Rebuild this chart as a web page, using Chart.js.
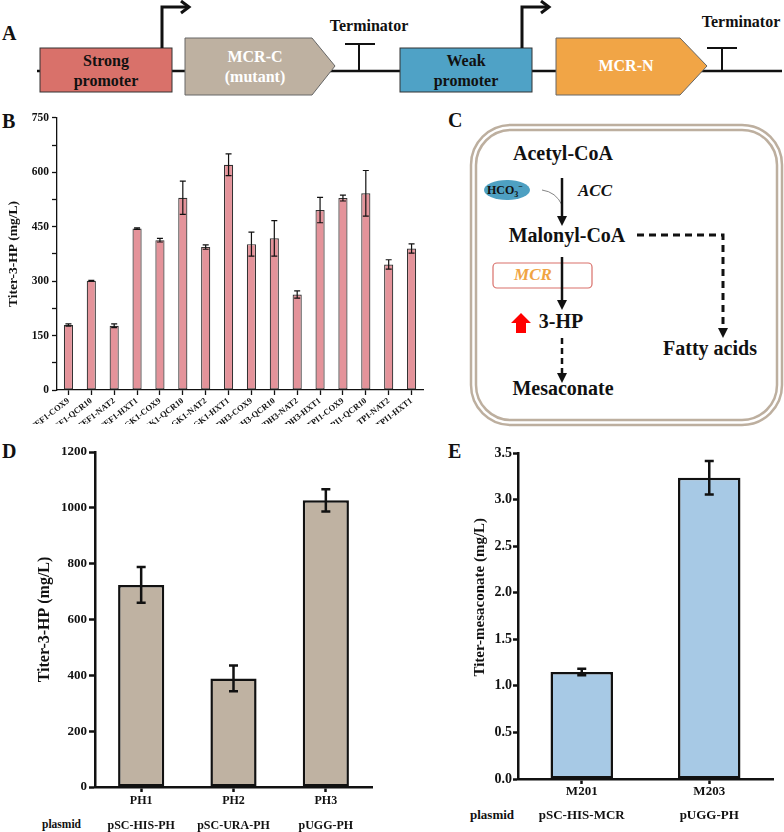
<!DOCTYPE html>
<html lang="en">
<head>
<meta charset="UTF-8">
<title>3-HP and mesaconate titers</title>
<script src="https://cdn.jsdelivr.net/npm/chart.js"></script>
<style>
  body { margin: 0; width: 784px; height: 832px; position: relative; background: #fff; overflow: hidden; }
  canvas, svg { position: absolute; }
  svg text { font-family: "Liberation Serif", "Times New Roman", serif; font-weight: bold; fill: #111; }
</style>
</head>
<body>
<svg width="784" height="832" style="left:0;top:0">
  <!-- panel labels -->
  <text x="2" y="40" font-size="20">A</text>
  <text x="2" y="128" font-size="20">B</text>
  <text x="448" y="127" font-size="20">C</text>
  <text x="2" y="458" font-size="20">D</text>
  <text x="448" y="458" font-size="20">E</text>

  <!-- A: construct -->
  <line x1="37" y1="71" x2="782" y2="71" stroke="#111" stroke-width="2.5"/>
  <rect x="40" y="48" width="132" height="44" fill="#D9716A" stroke="#333" stroke-width="1"/>
  <text x="106" y="62" font-size="16" text-anchor="middle" dominant-baseline="middle">Strong</text>
  <text x="106" y="82" font-size="16" text-anchor="middle" dominant-baseline="middle">promoter</text>
  <path d="M162,48 V7 H188" fill="none" stroke="#111" stroke-width="3"/>
  <polyline points="181,1 189,7 181,13" fill="none" stroke="#111" stroke-width="3"/>
  <polygon points="185,38 312,38 335,66 312,95 185,95" fill="#BEB1A1" stroke="#666" stroke-width="1"/>
  <text x="255" y="58" font-size="16" text-anchor="middle" dominant-baseline="middle" style="fill:#fff">MCR-C</text>
  <text x="255" y="78" font-size="16" text-anchor="middle" dominant-baseline="middle" style="fill:#fff">(mutant)</text>
  <text x="369" y="27" font-size="16" text-anchor="middle" dominant-baseline="middle">Terminator</text>
  <line x1="345" y1="44" x2="375" y2="44" stroke="#111" stroke-width="2"/>
  <line x1="359" y1="44" x2="359" y2="71" stroke="#111" stroke-width="2"/>
  <rect x="400" y="48" width="132" height="44" fill="#4FA2C6" stroke="#333" stroke-width="1"/>
  <text x="466" y="62" font-size="16" text-anchor="middle" dominant-baseline="middle">Weak</text>
  <text x="466" y="82" font-size="16" text-anchor="middle" dominant-baseline="middle">promoter</text>
  <path d="M522,48 V7 H548" fill="none" stroke="#111" stroke-width="3"/>
  <polyline points="541,1 549,7 541,13" fill="none" stroke="#111" stroke-width="3"/>
  <polygon points="556,38 680,38 707,66 680,95 556,95" fill="#F1A546" stroke="#666" stroke-width="1"/>
  <text x="626" y="67" font-size="16" text-anchor="middle" dominant-baseline="middle" style="fill:#fff">MCR-N</text>
  <text x="741" y="23" font-size="16" text-anchor="middle" dominant-baseline="middle">Terminator</text>
  <line x1="707" y1="48" x2="737" y2="48" stroke="#111" stroke-width="2"/>
  <line x1="722" y1="48" x2="722" y2="71" stroke="#111" stroke-width="2"/>

  <!-- C: pathway -->
  <rect x="471" y="125" width="311" height="300" rx="40" fill="none" stroke="#BDAF9F" stroke-width="2.5"/>
  <rect x="476" y="130" width="301" height="290" rx="35" fill="none" stroke="#BDAF9F" stroke-width="2.5"/>
  <text x="563" y="155" font-size="20" text-anchor="middle" dominant-baseline="middle">Acetyl-CoA</text>
  <ellipse cx="507" cy="190" rx="23" ry="10" fill="#4EA0C2"/>
  <text x="487" y="194" font-size="12">HCO<tspan dy="3" font-size="8">3</tspan><tspan dy="-8" font-size="8">−</tspan></text>
  <path d="M542,190 Q556,192 562,205" fill="none" stroke="#666" stroke-width="0.8"/>
  <line x1="562" y1="178" x2="562" y2="218" stroke="#111" stroke-width="2.5"/>
  <polygon points="557,216 567,216 562,226" fill="#111"/>
  <text x="578" y="192" font-size="17" font-style="italic" dominant-baseline="middle">ACC</text>
  <text x="567" y="237" font-size="20" text-anchor="middle" dominant-baseline="middle">Malonyl-CoA</text>
  <path d="M637,235 H723 V330" fill="none" stroke="#111" stroke-width="3" stroke-dasharray="7,5"/>
  <polygon points="718,328 728,328 723,338" fill="#111"/>
  <text x="710" y="350" font-size="20" text-anchor="middle" dominant-baseline="middle">Fatty acids</text>
  <rect x="493" y="263" width="99" height="25" rx="4" fill="none" stroke="#D9706A" stroke-width="1.2"/>
  <text x="533" y="276" font-size="17" font-style="italic" text-anchor="middle" dominant-baseline="middle" style="fill:#F0A444">MCR</text>
  <line x1="562" y1="257" x2="562" y2="302" stroke="#111" stroke-width="2.5"/>
  <polygon points="557,300 567,300 562,310" fill="#111"/>
  <polygon points="521,313 511,323 516,323 516,333 526,333 526,323 531,323" fill="#FF0000"/>
  <text x="561" y="323" font-size="20" text-anchor="middle" dominant-baseline="middle">3-HP</text>
  <line x1="562" y1="338" x2="562" y2="375" stroke="#111" stroke-width="2.5" stroke-dasharray="6,4"/>
  <polygon points="557,373 567,373 562,383" fill="#111"/>
  <text x="563" y="390" font-size="20" text-anchor="middle" dominant-baseline="middle">Mesaconate</text>

  <!-- row captions under D and E -->
  <text x="42" y="825" font-size="11.5" dominant-baseline="middle">plasmid</text>
  <text x="470" y="816" font-size="13" dominant-baseline="middle">plasmid</text>
</svg>

<canvas id="chartB" width="432" height="316" style="left:0;top:108px"></canvas>
<canvas id="chartD" width="392" height="392" style="left:0;top:440px"></canvas>
<canvas id="chartE" width="364" height="392" style="left:420px;top:440px"></canvas>

<script>
    // Panel B: promoter / terminator combinations
    const labelsB = ['TEF1-COX9', 'TEF1-QCR10', 'TEF1-NAT2', 'TEF1-HXT1', 'PGK1-COX9', 'PGK1-QCR10', 'PGK1-NAT2', 'PGK1-HXT1',
        'TDH3-COX9', 'TDH3-QCR10', 'TDH3-NAT2', 'TDH3-HXT1', 'TPI1-COX9', 'TPI1-QCR10', 'TPI-NAT2', 'TPI1-HXT1'];
    const titerB = [179, 301, 177, 445, 413, 530, 394, 621, 402, 418, 263, 496, 529, 542, 346, 390];
    const errB = [3, 1, 5, 2, 5, 46, 6, 30, 33, 49, 10, 35, 8, 63, 13, 13];
    const ticksB = [0, 150, 300, 450, 600, 750];

    // Panel D: 3-HP by plasmid
    const strainsD = ['PH1', 'PH2', 'PH3'];
    const plasmidsD = ['pSC-HIS-PH', 'pSC-URA-PH', 'pUGG-PH'];
    const titerD = [724, 389, 1027];
    const errD = [64, 46, 40];
    const ticksD = [0, 200, 400, 600, 800, 1000, 1200];

    // Panel E: mesaconate by plasmid
    const strainsE = ['M201', 'M203'];
    const plasmidsE = ['pSC-HIS-MCR', 'pUGG-PH'];
    const titerE = [1.15, 3.235];
    const errE = [0.035, 0.18];
    const ticksE = [0, 0.5, 1.0, 1.5, 2.0, 2.5, 3.0, 3.5];

    const SERIF = '"Liberation Serif", "Times New Roman", serif';
    Chart.defaults.font.family = SERIF;
    Chart.defaults.font.weight = 'bold';
    Chart.defaults.color = '#111';

    // error bars drawn from the y scale
    const errorBars = {
        id: 'errorBars',
        afterDatasetsDraw(chart, args, opts) {
            const ctx = chart.ctx;
            const y = chart.scales.y;
            const ds = chart.data.datasets[0];
            chart.getDatasetMeta(0).data.forEach((bar, i) => {
                const top = y.getPixelForValue(ds.data[i] + opts.errors[i]);
                const bot = y.getPixelForValue(ds.data[i] - opts.errors[i]);
                const h = opts.cap / 2;
                ctx.save();
                ctx.strokeStyle = '#111';
                ctx.lineWidth = opts.width;
                ctx.beginPath();
                ctx.moveTo(bar.x, top); ctx.lineTo(bar.x, bot);
                ctx.moveTo(bar.x - h, top); ctx.lineTo(bar.x + h, top);
                ctx.moveTo(bar.x - h, bot); ctx.lineTo(bar.x + h, bot);
                ctx.stroke();
                ctx.restore();
            });
        }
    };

    function makeChart(id, p) {
        new Chart(document.getElementById(id), {
            type: 'bar',
            data: {
                labels: p.labels,
                datasets: [{
                    data: p.data,
                    backgroundColor: p.fill,
                    borderColor: p.edge,
                    borderWidth: p.barBorder,
                    borderSkipped: false,
                    barPercentage: p.barPct,
                    categoryPercentage: 1
                }]
            },
            options: {
                responsive: false,
                animation: false,
                layout: { padding: p.padding },
                plugins: {
                    legend: { display: false },
                    tooltip: { enabled: false },
                    errorBars: { errors: p.errors, width: p.errWidth, cap: p.cap }
                },
                scales: {
                    x: {
                        grid: { offset: false, drawOnChartArea: false, tickLength: 5, tickWidth: p.axisWidth, tickColor: '#111' },
                        border: { color: '#111', width: p.axisWidth },
                        ticks: {
                            font: { size: p.xFont, lineHeight: p.xLine },
                            padding: p.xPad,
                            minRotation: p.rot, maxRotation: p.rot,
                            autoSkip: false
                        },
                        afterFit: s => { s.height = p.xHeight; }
                    },
                    y: {
                        min: p.ticks[0],
                        max: p.ticks[p.ticks.length - 1],
                        grid: { drawOnChartArea: false, tickLength: p.yTick, tickWidth: p.axisWidth, tickColor: '#111' },
                        border: { color: '#111', width: p.axisWidth },
                        ticks: {
                            stepSize: p.step,
                            padding: p.yPad,
                            font: { size: p.yFont },
                            callback: v => p.ticks.some(t => Math.abs(t - v) < 1e-9) ? p.fmt(v) : ''
                        },
                        title: { display: true, text: p.title, font: { size: p.titleFont }, padding: 0 },
                        afterFit: s => { s.width = p.yWidth; }
                    }
                }
            },
            plugins: [errorBars]
        });
    }

    makeChart('chartB', {
        labels: labelsB, data: titerB, errors: errB, ticks: ticksB, step: 75,
        fill: '#E4939A', edge: '#333', barBorder: 1.2, barPct: 0.4,
        padding: { left: 5, top: 9, right: 9, bottom: 0 },
        errWidth: 1.2, cap: 6, axisWidth: 1.3,
        xFont: 8.5, xLine: 1.2, xPad: 1, rot: 38, xHeight: 34,
        yFont: 11.5, yTick: 5, yPad: 3, yWidth: 52, fmt: v => String(v),
        title: 'Titer-3-HP (mg/L)', titleFont: 13.5
    });

    makeChart('chartD', {
        labels: strainsD.map((s, i) => [s, plasmidsD[i]]), data: titerD, errors: errD, ticks: ticksD, step: 200,
        fill: '#BFB2A2', edge: '#111', barBorder: 2.5, barPct: 0.5,
        padding: { left: 35, top: 12, right: 20, bottom: 0 },
        errWidth: 2.5, cap: 9, axisWidth: 2.5,
        xFont: 12, xLine: '25px', xPad: -4, rot: 0, xHeight: 45,
        yFont: 13, yTick: 6, yPad: 2, yWidth: 60, fmt: v => String(v),
        title: 'Titer-3-HP (mg/L)', titleFont: 16
    });

    // leading spaces lift the rotated title to where it sits in the figure
    makeChart('chartE', {
        labels: strainsE.map((s, i) => [s, plasmidsE[i]]), data: titerE, errors: errE, ticks: ticksE, step: 0.5,
        fill: '#A7C9E5', edge: '#111', barBorder: 2.5, barPct: 0.49,
        padding: { left: 51, top: 13, right: 11, bottom: 0 },
        errWidth: 2.5, cap: 9, axisWidth: 2.5,
        xFont: 13, xLine: '24px', xPad: -4, rot: 0, xHeight: 53,
        yFont: 14, yTick: 5, yPad: 1, yWidth: 47, fmt: v => v.toFixed(1),
        title: '\u00a0'.repeat(10) + 'Titer-mesaconate (mg/L)', titleFont: 15
    });
</script>
</body>
</html>
